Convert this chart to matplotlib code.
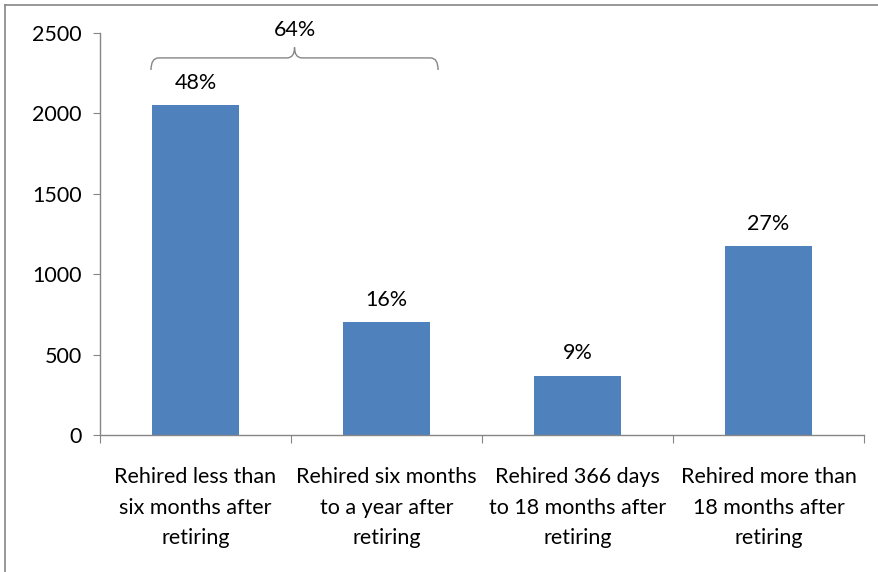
import matplotlib
matplotlib.use("Agg")
import matplotlib.pyplot as plt
from matplotlib.path import Path
from matplotlib.patches import PathPatch
from matplotlib.lines import Line2D

categories = ["Rehired less than\nsix months after\nretiring",
              "Rehired six months\nto a year after\nretiring",
              "Rehired 366 days\nto 18 months after\nretiring",
              "Rehired more than\n18 months after\nretiring"]
values = [2050, 700, 367, 1175]
pct_labels = ["48%", "16%", "9%", "27%"]
group_label = "64%"
yticks = [0, 500, 1000, 1500, 2000, 2500]

plt.rcParams['font.family'] = ['Lato', 'DejaVu Sans']
FS = 15.5
AX_COLOR = "#868686"

fig = plt.figure(figsize=(8.79, 5.72), dpi=100)
ax = fig.add_axes([100/879, 1-435/572, (864-100)/879, (435-33)/572])

x = list(range(len(categories)))
ax.bar(x, values, width=0.46, color="#4F81BD", zorder=2)
ax.set_xlim(-0.5, len(categories) - 0.5)
ax.set_ylim(0, 2500)

for xi, v, lab in zip(x, values, pct_labels):
    ax.text(xi, v + 140, lab, ha="center", va="center", fontsize=FS, color="black")

# axes styling
for s in ["top", "right"]:
    ax.spines[s].set_visible(False)
for s in ["left", "bottom"]:
    ax.spines[s].set_color(AX_COLOR)
    ax.spines[s].set_linewidth(1.0)

ax.set_yticks(yticks)
ax.set_yticklabels([str(t) for t in yticks], fontsize=FS)
ax.tick_params(axis="y", direction="out", length=5, color=AX_COLOR, pad=8)

ax.set_xticks([i - 0.5 for i in range(len(categories) + 1)])
ax.set_xticklabels([""] * (len(categories) + 1))
ax.tick_params(axis="x", direction="out", length=6, color=AX_COLOR)
for xi, c in zip(x, categories):
    ax.text(xi, -0.08, c, transform=ax.get_xaxis_transform(), ha="center", va="top",
            fontsize=FS, linespacing=1.65)

# bracket over first two bars
x0 = x[0] - 0.233
x1 = x[1] + 0.27
xc = (x0 + x1) / 2
yb = 2270
yh = 2345
yp = 2410
dx = 0.04
verts = [(x0, yb), (x0, yh), (x0 + dx, yh),
         (xc - dx, yh),
         (xc, yh), (xc, yp),
         (xc, yh), (xc + dx, yh),
         (x1 - dx, yh),
         (x1, yh), (x1, yb)]
codes = [Path.MOVETO, Path.CURVE3, Path.CURVE3,
         Path.LINETO,
         Path.CURVE3, Path.CURVE3,
         Path.CURVE3, Path.CURVE3,
         Path.LINETO,
         Path.CURVE3, Path.CURVE3]
ax.add_patch(PathPatch(Path(verts, codes), facecolor="none", edgecolor=AX_COLOR,
                       linewidth=1.0, clip_on=False, zorder=3))
ax.text(xc, 2520, group_label, ha="center", va="center", fontsize=FS, clip_on=False)

# figure border (top and left visible)
fig.add_artist(Line2D([5/879, 5/879], [0, 1-5/572], transform=fig.transFigure,
                      color=AX_COLOR, linewidth=1.2))
fig.add_artist(Line2D([5/879, 1], [1-5/572, 1-5/572], transform=fig.transFigure,
                      color=AX_COLOR, linewidth=1.2))

fig.savefig("out.png", dpi=100)
